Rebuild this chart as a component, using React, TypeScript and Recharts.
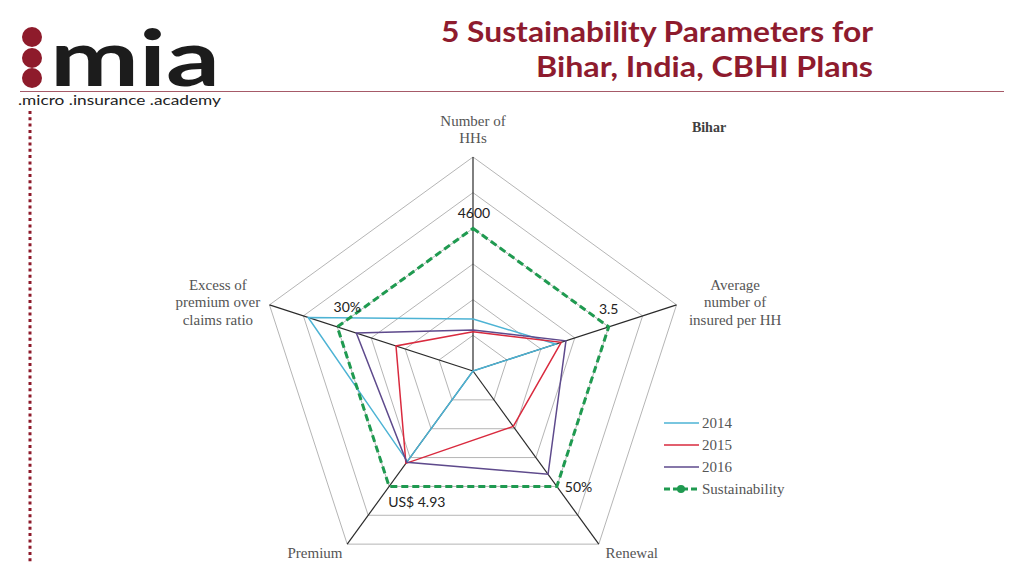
import React from "react";
import {
  RadarChart,
  Radar,
  PolarGrid,
  PolarAngleAxis,
  PolarRadiusAxis,
  LabelList,
  Legend,
} from "recharts";

const axisNames = [
  "Number of HHs",
  "Average number of insured per HH",
  "Renewal",
  "Premium",
  "Excess of premium over claims ratio",
];
const axisLabelLines = [
  ["Number of", "HHs"],
  ["Average", "number of", "insured per HH"],
  ["Renewal"],
  ["Premium"],
  ["Excess of", "premium over", "claims ratio"],
];
const values2014 = [1.46, 2.44, 0, 3.13, 4.86];
const values2015 = [1.1, 2.6, 1.92, 3.2, 2.27];
const values2016 = [1.15, 2.74, 3.58, 3.16, 3.44];
const valuesSustain = [4, 4, 4, 4, 4];
const sustainLabels = ["4600", "3.5", "50%", "US$ 4.93", "30%"];

const seriesNames = ["2014", "2015", "2016", "Sustainability"];
const seriesKeys = ["y2014", "y2015", "y2016", "sust"];
const seriesColors = ["#4db3d4", "#d92a3e", "#5e4a8c", "#1f9a50"];

const data = axisNames.map((a, i) => ({
  axis: a,
  y2014: values2014[i],
  y2015: values2015[i],
  y2016: values2016[i],
  sust: valuesSustain[i],
  slabel: sustainLabels[i],
}));

const axisFont = "'Liberation Serif', 'DejaVu Serif', serif";
const sansFont = "Lato, 'Open Sans', sans-serif";

const tickLayout = [
  { dx: 0, dys: [-23, -6], anchor: "middle" },
  { dx: 51, dys: [-12, 5, 23], anchor: "middle" },
  { dx: 2, dys: [7], anchor: "start" },
  { dx: 0, dys: [7], anchor: "end" },
  { dx: -44, dys: [-12, 5, 23], anchor: "middle" },
];

const AngleTick = (props: any) => {
  const { x, y, payload } = props;
  const idx = axisNames.indexOf(payload.value);
  const lay = tickLayout[idx] || tickLayout[0];
  const lines = axisLabelLines[idx] || [payload.value];
  return (
    <g>
      {lines.map((l, k) => (
        <text
          key={k}
          x={x + lay.dx}
          y={y + lay.dys[k]}
          textAnchor={lay.anchor as any}
          fontFamily={axisFont}
          fontSize={15}
          fill="#555"
        >
          {l}
        </text>
      ))}
    </g>
  );
};

const labelOffsets = [
  { dx: 1, dy: -10, anchor: "middle" },
  { dx: 0, dy: -13, anchor: "middle" },
  { dx: 8, dy: 6, anchor: "start" },
  { dx: -1, dy: 21, anchor: "start" },
  { dx: 10, dy: -15, anchor: "middle" },
];

const SustLabel = (props: any) => {
  const { x, y, value } = props;
  const idx = sustainLabels.indexOf(String(value));
  const o = labelOffsets[idx] || labelOffsets[0];
  return (
    <text
      x={x + o.dx}
      y={y + o.dy}
      textAnchor={o.anchor as any}
      fontFamily={sansFont}
      fontSize={14}
      fill="#222"
    >
      {value}
    </text>
  );
};

const LegendContent = () => (
  <svg width={160} height={100} style={{ overflow: "visible" }}>
    {seriesNames.map((n, i) => {
      const y = 10 + i * 22;
      const isS = i === 3;
      return (
        <g key={n}>
          <line
            x1={2}
            x2={37}
            y1={y}
            y2={y}
            stroke={seriesColors[i]}
            strokeWidth={isS ? 3 : 1.5}
            strokeDasharray={isS ? "6 3" : undefined}
          />
          {isS && <circle cx={19} cy={y} r={4} fill={seriesColors[i]} />}
          <text
            x={40}
            y={y + 5}
            fontFamily={axisFont}
            fontSize={15}
            fill="#555"
          >
            {n}
          </text>
        </g>
      );
    })}
  </svg>
);

const Decor = () => (
  <svg
    width={1024}
    height={576}
    style={{ position: "absolute", left: 0, top: 0 }}
  >
    <rect x={0} y={0} width={1024} height={576} fill="#fff" />
    {/* logo */}
    <circle cx={32} cy={37} r={10} fill="#8e1b2b" />
    <circle cx={32} cy={58} r={10} fill="#8e1b2b" />
    <circle cx={32} cy={78} r={10} fill="#8e1b2b" />
    <text
      x={50}
      y={86}
      fontFamily={sansFont}
      fontWeight={700}
      fontSize={78}
      fill="#1c1c1c"
      textLength={170}
      lengthAdjust="spacingAndGlyphs"
    >
      mia
    </text>
    <line x1={20} x2={1004} y1={91.5} y2={91.5} stroke="#a65a68" strokeWidth={1.2} />
    <text
      x={18}
      y={105}
      fontFamily={sansFont}
      fontSize={14}
      fill="#222"
      textLength={203}
      lengthAdjust="spacingAndGlyphs"
    >
      .micro .insurance .academy
    </text>
    <line
      x1={30}
      x2={30}
      y1={111}
      y2={562}
      stroke="#8e1b2b"
      strokeWidth={3}
      strokeDasharray="3 3.3"
    />
    {/* title */}
    <text
      x={441}
      y={42}
      fontFamily={sansFont}
      fontWeight={700}
      fontSize={28}
      fill="#8e1b2e"
      textLength={432}
      lengthAdjust="spacingAndGlyphs"
    >
      5 Sustainability Parameters for
    </text>
    <text
      x={536}
      y={77}
      fontFamily={sansFont}
      fontWeight={700}
      fontSize={28}
      fill="#8e1b2e"
      textLength={337}
      lengthAdjust="spacingAndGlyphs"
    >
      Bihar, India, CBHI Plans
    </text>
    <text
      x={709}
      y={132}
      textAnchor="middle"
      fontFamily={axisFont}
      fontWeight={700}
      fontSize={14}
      fill="#404040"
    >
      Bihar
    </text>
  </svg>
);

export default function App() {
  return (
    <div
      style={{
        position: "absolute",
        left: 0,
        top: 0,
        width: 1024,
        height: 576,
        background: "#fff",
      }}
    >
      <Decor />
      <div style={{ position: "absolute", left: 0, top: 0 }}>
        <RadarChart
          width={1024}
          height={576}
          cx={473}
          cy={371}
          outerRadius={214}
          data={data}
          margin={{ top: 0, right: 0, bottom: 0, left: 0 }}
        >
          <PolarGrid gridType="polygon" radialLines={false} stroke="#b5b5b5" strokeWidth={1} />
          <PolarGrid gridType="polygon" polarRadius={[]} stroke="#2a2a2a" strokeWidth={1.2} />
          <PolarRadiusAxis
            domain={[0, 6]}
            tickCount={7}
            tick={false}
            axisLine={false}
          />
          <PolarAngleAxis
            dataKey="axis"
            tick={<AngleTick />}
            tickLine={false}
            axisLine={false}
          />
          {seriesKeys.slice(0, 3).map((k, i) => (
            <Radar
              key={k}
              name={seriesNames[i]}
              dataKey={k}
              stroke={seriesColors[i]}
              strokeWidth={1.5}
              fill="none"
              fillOpacity={0}
              dot={false}
              isAnimationActive={false}
            />
          ))}
          <Radar
            name={seriesNames[3]}
            dataKey="sust"
            stroke={seriesColors[3]}
            strokeWidth={3}
            strokeDasharray="7 4"
            fill="none"
            fillOpacity={0}
            dot={{ r: 4.5, fill: seriesColors[3], stroke: "none", strokeDasharray: "" }}
            isAnimationActive={false}
          >
            <LabelList dataKey="slabel" content={<SustLabel />} />
          </Radar>
          <Legend
            content={<LegendContent />}
            wrapperStyle={{ position: "absolute", left: 662, top: 413, width: 160 }}
          />
        </RadarChart>
      </div>
    </div>
  );
}
